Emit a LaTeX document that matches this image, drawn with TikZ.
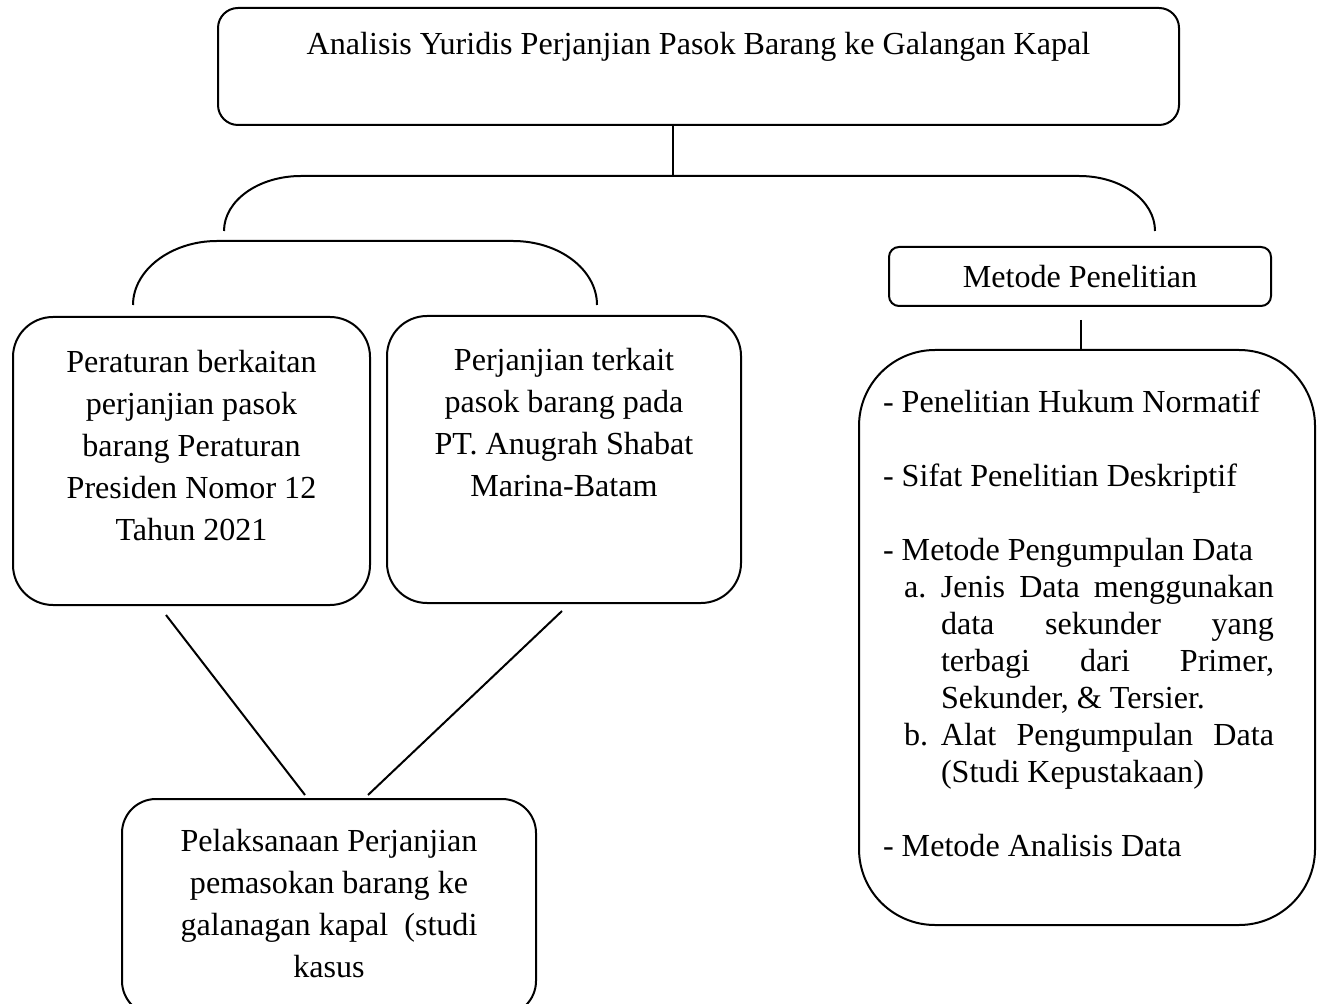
\documentclass[tikz,border=0pt]{standalone}
\usepackage{fontspec}
\setmainfont{Liberation Serif}
\usetikzlibrary{calc}
\begin{document}
\begin{tikzpicture}[x=0.5pt,y=-0.5pt,line width=1pt]
    \tikzstyle{bx}=[draw,inner sep=0pt,rounded corners=20pt]
    \tikzstyle{txt}=[inner sep=0pt,align=center,font=\fontsize{16.05}{21}\selectfont]
    \useasboundingbox (0,0) rectangle (1320,1004);

    % judul
    \node[bx,rounded corners=10pt,minimum width=480.5pt,minimum height=58.5pt] (judul) at (698.5,66.5) {};
    \node[txt] (judultxt) at ([yshift=-20pt]judul.north) {Analisis Yuridis Perjanjian Pasok Barang ke Galangan Kapal};

    % kotak kiri
    \node[bx,minimum width=178.5pt,minimum height=144pt] (peraturan) at (191.5,461) {};
    \node[txt] (peraturantxt) at (191.5,446) {Peraturan berkaitan\\perjanjian pasok\\barang Peraturan\\Presiden Nomor 12\\Tahun 2021};
    \node[bx,minimum width=177pt,minimum height=143.5pt] (perjanjian) at (564,459.5) {};
    \node[txt] (perjanjiantxt) at (564,423) {Perjanjian terkait\\pasok barang pada\\PT. Anugrah Shabat\\Marina-Batam};
    \node[bx,rounded corners=17pt,minimum width=207pt,minimum height=108pt] (pelaksanaan) at (329,907) {};
    \node[txt] (pelaksanaantxt) at (329,903.5) {Pelaksanaan Perjanjian\\pemasokan barang ke\\galanagan kapal\ \ (studi\\kasus};

    % kotak kanan
    \node[bx,txt,rounded corners=5pt,minimum width=191pt,minimum height=29.5pt] (metode) at (1080,276.5) {Metode Penelitian};
    \node[bx,rounded corners=38pt,minimum width=228pt,minimum height=287.5pt] (metlist) at (1087,637.5) {};
    \node[txt,anchor=north west,text width=195.5pt,align=justify,font=\fontsize{16.05}{18.5}\selectfont] (metlisttxt) at (882,389) {%
        \parindent=0pt
        - Penelitian Hukum Normatif\par
        \mbox{}\par
        - Sifat Penelitian Deskriptif\par
        \mbox{}\par
        - Metode Pengumpulan Data\par
        {\leftskip=29pt
        \noindent\llap{\makebox[18.5pt][l]{a.}}Jenis Data menggunakan\linebreak data sekunder yang\linebreak terbagi dari Primer,\linebreak Sekunder, \& Tersier.\par
        \noindent\llap{\makebox[18.5pt][l]{b.}}Alat Pengumpulan Data\linebreak (Studi Kepustakaan)\par}
        \mbox{}\par
        - Metode Analisis Data};

    % kurung
    \coordinate (kurungA) at (673,176);
    \coordinate (kiriA) at (224,231);
    \coordinate (kananA) at (1155,231);
    \coordinate (kiriB) at (133,305);
    \coordinate (kananB) at (597,305);
    \draw (judul.south -| kurungA) -- (kurungA);
    \draw (kiriA) .. controls (224,200.6) and (258.5,176) .. (301,176) -- (1079,176)
        .. controls (1121.5,176) and (1155,200.6) .. (kananA);
    \draw (kiriB) .. controls (133,269.7) and (171.6,241) .. (217,241) -- (513,241)
        .. controls (559.4,241) and (597,269.7) .. (kananB);

    \coordinate (celah) at (1081,320);
    \draw (celah) -- (celah |- metlist.north);

    \draw ($(peraturan.south)+(-25.5,9)$) -- ($(pelaksanaan.north)+(-24,-3)$);
    \draw ($(perjanjian.south)+(-2,7)$) -- ($(pelaksanaan.north)+(39,-3)$);
\end{tikzpicture}
\end{document}
